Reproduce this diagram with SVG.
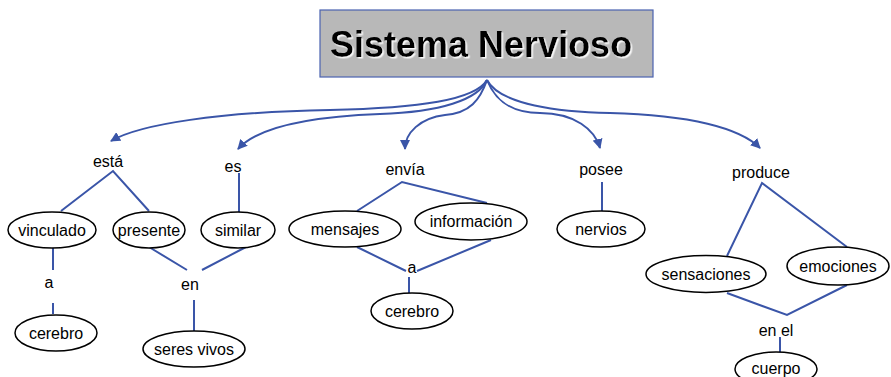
<svg xmlns="http://www.w3.org/2000/svg" width="891" height="377" viewBox="0 0 891 377">
<defs>
<marker id="ah" viewBox="0 0 10 10" refX="9" refY="5" markerWidth="5" markerHeight="5" orient="auto" markerUnits="strokeWidth">
<path d="M0,0 L10,5 L0,10 z" fill="#3a55a8"/>
</marker>
<filter id="sh" x="-5%" y="-20%" width="110%" height="140%">
<feDropShadow dx="1.5" dy="1.5" stdDeviation="0.6" flood-color="#ffffff" flood-opacity="0.9"/>
</filter>
</defs>
<style>
.t{font-family:"Liberation Sans",Arial,sans-serif;font-size:16px;fill:#000;text-anchor:middle}
.e{fill:#fff;stroke:#000;stroke-width:1.5}
.c{fill:none;stroke:#3a55a8;stroke-width:2}
.a{fill:none;stroke:#3a55a8;stroke-width:2;marker-end:url(#ah)}
</style>
<rect width="891" height="377" fill="#fff"/>
<g id="title">
<rect x="320" y="10" width="333" height="67" fill="#b8b8b8" stroke="#4a62b0" stroke-width="1.2"/>
<text x="330" y="57" font-family="Liberation Sans,Arial,sans-serif" font-weight="bold" font-size="36" fill="#000" filter="url(#sh)">Sistema Nervioso</text>
</g>
<g id="connectors">
<path class="a" d="M487,80 C475,100 420,108 330,110 C 220,112 140,124 111,141"/>
<path class="a" d="M487,80 C478,100 440,112 380,114 C 300,117 255,130 238,149"/>
<path class="a" d="M487,80 C480,100 470,113 445,115 C 420,118 405,133 405,149"/>
<path class="a" d="M487,80 C495,100 510,113 540,113 C 575,113 595,130 600,148"/>
<path class="a" d="M487,80 C500,105 560,112 610,113 C 690,115 740,128 760,148"/>
<path class="c" d="M61,211 L113,171 L149,211"/>
<path class="c" d="M53,248 L53,270 M53,303 L53,314"/>
<path class="c" d="M149,247 L187,270 M246,247 L202,270"/>
<path class="c" d="M239,173 L239,212"/>
<path class="c" d="M194,300 L194,331"/>
<path class="c" d="M357,211 L402,182 L487,203"/>
<path class="c" d="M357,247 L406,271 M491,240 L417,271"/>
<path class="c" d="M409,277 L409,293"/>
<path class="c" d="M602,182 L602,211"/>
<path class="c" d="M727,256 L762,183 L847,247"/>
<path class="c" d="M727,293 L787,315 L847,285"/>
<path class="c" d="M780,337 L780,352"/>
</g>
<g id="lbl-esta"><text class="t" x="108" y="167">está</text></g>
<g id="lbl-es"><text class="t" x="233" y="172">es</text></g>
<g id="lbl-envia"><text class="t" x="405" y="175">envía</text></g>
<g id="lbl-posee"><text class="t" x="601" y="175">posee</text></g>
<g id="lbl-produce"><text class="t" x="761" y="178">produce</text></g>
<g id="lbl-a1"><text class="t" x="49" y="288">a</text></g>
<g id="lbl-en"><text class="t" x="190" y="290">en</text></g>
<g id="lbl-a2"><text class="t" x="412" y="273">a</text></g>
<g id="lbl-enel"><text class="t" x="776" y="336">en el</text></g>
<g id="n-vinculado"><ellipse class="e" cx="52" cy="230" rx="44" ry="18"/><text class="t" x="52" y="235.5">vinculado</text></g>
<g id="n-presente"><ellipse class="e" cx="149" cy="230" rx="36" ry="18"/><text class="t" x="149" y="235.5">presente</text></g>
<g id="n-similar"><ellipse class="e" cx="238" cy="230" rx="37" ry="18"/><text class="t" x="238" y="235.5">similar</text></g>
<g id="n-cerebro1"><ellipse class="e" cx="56" cy="333" rx="41" ry="18"/><text class="t" x="56" y="338.5">cerebro</text></g>
<g id="n-seresvivos"><ellipse class="e" cx="194" cy="349" rx="51" ry="18"/><text class="t" x="194" y="354.5">seres vivos</text></g>
<g id="n-mensajes"><ellipse class="e" cx="345" cy="229" rx="56" ry="18"/><text class="t" x="345" y="234.5">mensajes</text></g>
<g id="n-informacion"><ellipse class="e" cx="471" cy="221.5" rx="56" ry="18.5"/><text class="t" x="471" y="227">información</text></g>
<g id="n-cerebro2"><ellipse class="e" cx="412" cy="311" rx="41" ry="18"/><text class="t" x="412" y="316.5">cerebro</text></g>
<g id="n-nervios"><ellipse class="e" cx="601" cy="229" rx="44" ry="18"/><text class="t" x="601" y="234.5">nervios</text></g>
<g id="n-sensaciones"><ellipse class="e" cx="706" cy="274" rx="60" ry="18.5"/><text class="t" x="706" y="279.5">sensaciones</text></g>
<g id="n-emociones"><ellipse class="e" cx="838" cy="266" rx="51" ry="19"/><text class="t" x="838" y="271.5">emociones</text></g>
<g id="n-cuerpo"><ellipse class="e" cx="776" cy="369" rx="41" ry="17"/><text class="t" x="776" y="374">cuerpo</text></g>
</svg>
